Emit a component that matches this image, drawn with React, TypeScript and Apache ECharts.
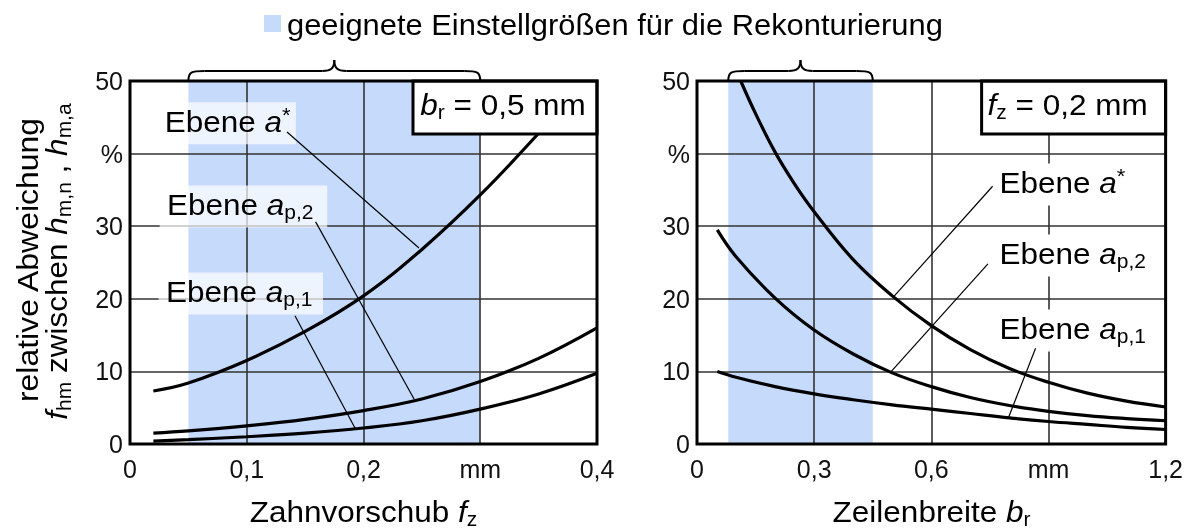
import React, { useEffect, useRef } from "react";
import * as echarts from "echarts";

const FONT = "'Liberation Sans', Arial, Helvetica, sans-serif";
const BAND = "#c6dafc";
const INK = "#000";

// Left panel: Zahnvorschub f_z (mm) at b_r = 0,5 mm
const feedTicks = ["0", "0,1", "0,2", "mm", "0,4"];
const feedBand = [0.05, 0.3];
const feedAStar = [[0.02, 7.3], [0.05, 8.4], [0.1, 11.5], [0.15, 15.5], [0.2, 20.4], [0.25, 26.8], [0.3, 34.3], [0.35, 42.8], [0.36, 44.8]];
const feedAp2 = [[0.02, 1.5], [0.05, 1.8], [0.1, 2.5], [0.15, 3.4], [0.2, 4.6], [0.25, 6.2], [0.3, 8.6], [0.35, 11.8], [0.4, 16]];
const feedAp1 = [[0.02, 0.4], [0.05, 0.6], [0.1, 1.0], [0.15, 1.5], [0.2, 2.2], [0.25, 3.2], [0.3, 4.8], [0.35, 6.9], [0.4, 9.75]];

// Right panel: Zeilenbreite b_r (mm) at f_z = 0,2 mm
const widthTicks = ["0", "0,3", "0,6", "mm", "1,2"];
const widthBand = [0.08, 0.45];
const widthAStar = [[0.112, 50], [0.15, 45.5], [0.2, 40.2], [0.25, 35.8], [0.3, 32], [0.4, 25.4], [0.5, 20.4], [0.6, 16.3], [0.7, 13], [0.8, 10.4], [0.9, 8.5], [1.0, 7.0], [1.1, 5.9], [1.2, 5.1]];
const widthAp2 = [[0.052, 29.5], [0.1, 25.8], [0.2, 20.1], [0.3, 15.7], [0.4, 12.4], [0.5, 9.8], [0.6, 7.9], [0.7, 6.4], [0.8, 5.3], [0.9, 4.5], [1.0, 3.9], [1.1, 3.5], [1.2, 3.2]];
const widthAp1 = [[0.052, 10], [0.1, 9.2], [0.2, 7.9], [0.3, 6.9], [0.4, 6.1], [0.5, 5.4], [0.6, 4.8], [0.7, 4.2], [0.8, 3.6], [0.9, 3.1], [1.0, 2.7], [1.1, 2.3], [1.2, 2.0]];

const yTicks = ["0", "10", "20", "30", "%", "50"];

// Leader lines from the callouts to their curves (data units)
const feedLeaders = [
  [[0.1345, 42.98], [0.2475, 27.0]],
  [[0.159, 30.6], [0.2433, 6.2]],
  [[0.1413, 17.67], [0.1927, 2.2]],
];
const widthLeaders = [
  [[0.757, 35.5], [0.502, 20.2]],
  [[0.745, 24.8], [0.497, 9.96]],
  [[0.867, 13.2], [0.797, 3.54]],
];

const LBL_A = "{n|Ebene }{i|a}{sup|*}";
const LBL_P2 = "{n|Ebene }{i|a}{sub|p,2}";
const LBL_P1 = "{n|Ebene }{i|a}{sub|p,1}";

// Callout anchors: text start and baseline, in data units
const callouts = [
  { grid: 0, text: LBL_A, at: [0.0297, 43.02], padL: 7, padR: 5, bg: "rgba(255,255,255,0.7)" },
  { grid: 0, text: LBL_P2, at: [0.0317, 31.54], padL: 7, padR: 13, bg: "rgba(255,255,255,0.7)" },
  { grid: 0, text: LBL_P1, at: [0.0308, 19.56], padL: 7, padR: 10, bg: "rgba(255,255,255,0.7)" },
  { grid: 1, text: LBL_A, at: [0.7746, 34.57], padL: 6, padR: 6, bg: "#ffffff" },
  { grid: 1, text: LBL_P2, at: [0.7746, 24.79], padL: 6, padR: 6, bg: "#ffffff" },
  { grid: 1, text: LBL_P1, at: [0.7746, 14.46], padL: 6, padR: 6, bg: "#ffffff" },
];

const rich = {
  n: { fontSize: 30, lineHeight: 34, fontFamily: FONT, color: INK },
  i: { fontSize: 30, lineHeight: 34, fontFamily: FONT, fontStyle: "italic", color: INK },
  sub: { fontSize: 20, lineHeight: 18, verticalAlign: "bottom", fontFamily: FONT, color: INK },
  sup: { fontSize: 21, lineHeight: 30, verticalAlign: "top", fontFamily: FONT, color: INK },
};

const SX = 1.05;

const GRIDS = [
  { left: 130, top: 81, width: 467, height: 363 },
  { left: 697, top: 81, width: 469, height: 363 },
];

const splitLine = { show: true, lineStyle: { color: "#333333", width: 1.6 } };
const tickFont = { fontFamily: FONT, fontSize: 25, color: "#111" };

function xAxis(grid: number, max: number, step: number, labels: string[]) {
  return {
    gridIndex: grid,
    type: "value",
    min: 0,
    max,
    interval: step,
    z: 2,
    axisLine: { show: false },
    axisTick: { show: false },
    splitLine,
    axisLabel: { ...tickFont, margin: 12, formatter: (v: number) => labels[Math.round(v / step)] ?? "" },
  };
}

function yAxis(grid: number) {
  return {
    gridIndex: grid,
    type: "value",
    min: 0,
    max: 50,
    interval: 10,
    z: 2,
    axisLine: { show: false },
    axisTick: { show: false },
    splitLine,
    axisLabel: { ...tickFont, margin: 7, formatter: (v: number) => yTicks[Math.round(v / 10)] ?? "" },
  };
}

function curve(g: number, data: number[][]) {
  return {
    type: "line", xAxisIndex: g, yAxisIndex: g, data, symbol: "none", smooth: 0.4,
    z: 5, silent: true, lineStyle: { color: INK, width: 3.2 },
  };
}

function leader(g: number, data: number[][]) {
  return {
    type: "line", xAxisIndex: g, yAxisIndex: g, data, symbol: "none", z: 13, silent: true,
    lineStyle: { color: INK, width: 1.2 },
  };
}

function band(g: number, range: number[]) {
  return {
    type: "line", xAxisIndex: g, yAxisIndex: g, data: [], z: 1, silent: true,
    markArea: { silent: true, itemStyle: { color: BAND }, data: [[{ xAxis: range[0] }, { xAxis: range[1] }]] },
  };
}

function baseOption() {
  return {
    animation: false,
    grid: GRIDS,
    xAxis: [xAxis(0, 0.4, 0.1, feedTicks), xAxis(1, 1.2, 0.3, widthTicks)],
    yAxis: [yAxis(0), yAxis(1)],
    series: [
      band(0, feedBand),
      band(1, widthBand),
      curve(0, feedAStar),
      curve(0, feedAp2),
      curve(0, feedAp1),
      curve(1, widthAStar),
      curve(1, widthAp2),
      curve(1, widthAp1),
      ...feedLeaders.map((l) => leader(0, l)),
      ...widthLeaders.map((l) => leader(1, l)),
    ],
  };
}

// curly brace spanning [x1, x2] above the plot
function brace(x1: number, x2: number, yB: number, yT: number) {
  const mid = (x1 + x2) / 2;
  const ym = yB - 10;
  const st = { stroke: INK, lineWidth: 2, fill: "none" };
  const half = (s: number, xa: number) => [
    { type: "bezierCurve", z: 25, shape: { x1: xa, y1: yB, cpx1: xa, cpy1: ym + 1, cpx2: xa + s * 3, cpy2: ym, x2: xa + s * 16, y2: ym }, style: st },
    { type: "line", z: 25, shape: { x1: xa + s * 16, y1: ym, x2: mid - s * 12, y2: ym }, style: st },
    { type: "bezierCurve", z: 25, shape: { x1: mid - s * 12, y1: ym, cpx1: mid - s * 3, cpy1: ym, cpx2: mid, cpy2: ym - 3, x2: mid, y2: yT }, style: st },
  ];
  return [...half(1, x1), ...half(-1, x2)];
}

function buildGraphic(chart: any) {
  const P = (g: number, x: number, y: number) => chart.convertToPixel({ gridIndex: g }, [x, y]) as number[];
  const els: any[] = [];

  // legend
  els.push({ type: "rect", z: 20, shape: { x: 264, y: 15, width: 17, height: 17 }, style: { fill: BAND } });
  els.push({
    type: "text", z: 20, x: 287, y: 24.6, scaleX: 1.03,
    style: { text: "geeignete Einstellgrößen für die Rekonturierung", fontFamily: FONT, fontSize: 30, fill: INK, align: "left", verticalAlign: "middle" },
  });

  const frames = [
    { g: 0, xmax: 0.4, bandR: feedBand, box: "{i|b}{sub|r}{n| = 0,5 mm}", dx: -2 },
    { g: 1, xmax: 1.2, bandR: widthBand, box: "{i|f}{sub|z}{n| = 0,2 mm}", dx: -6 },
  ];
  frames.forEach((f) => {
    const [l, t] = P(f.g, 0, 50);
    const [r, b] = P(f.g, f.xmax, 0);
    // parameter box in the upper right corner
    els.push({ type: "rect", z: 21, shape: { x: r - 184, y: t, width: 184, height: 53 }, style: { fill: "#fff", stroke: INK, lineWidth: 3 } });
    els.push({
      type: "text", z: 22, x: r - 92 + f.dx, y: t + 23.6, scaleX: SX,
      style: { text: f.box, rich, fontFamily: FONT, fontSize: 30, fill: INK, align: "center", verticalAlign: "middle" },
    });
    // plot frame
    els.push({ type: "rect", z: 30, shape: { x: l, y: t, width: r - l, height: b - t }, style: { fill: "none", stroke: INK, lineWidth: 3 } });
    // brace over the suitable range
    const bx1 = P(f.g, f.bandR[0], 50)[0];
    const bx2 = P(f.g, f.bandR[1], 50)[0];
    els.push(...brace(bx1, bx2, t, 60));
  });

  callouts.forEach((c) => {
    const [px, py] = P(c.grid, c.at[0], c.at[1]);
    els.push({
      type: "text", z: 12, x: px - c.padL * SX, y: py - 29.4, scaleX: SX,
      style: {
        text: c.text, rich, fontFamily: FONT, fontSize: 30, fill: INK, align: "left", verticalAlign: "top",
        backgroundColor: c.bg, padding: [2, c.padR, 6, c.padL],
      },
    });
  });

  // axis titles
  els.push({
    type: "text", z: 20, x: (GRIDS[0].left * 2 + GRIDS[0].width) / 2, y: 511.5, scaleX: SX,
    style: { text: "{n|Zahnvorschub }{i|f}{sub|z}", rich, fontFamily: FONT, fontSize: 30, fill: INK, align: "center", verticalAlign: "middle" },
  });
  els.push({
    type: "text", z: 20, x: (GRIDS[1].left * 2 + GRIDS[1].width) / 2, y: 511.5, scaleX: SX,
    style: { text: "{n|Zeilenbreite }{i|b}{sub|r}", rich, fontFamily: FONT, fontSize: 30, fill: INK, align: "center", verticalAlign: "middle" },
  });
  els.push({
    type: "text", z: 20, x: 27.6, y: 260, rotation: Math.PI / 2, scaleX: 1.065,
    style: { text: "{n|relative Abweichung}", rich, fontFamily: FONT, fontSize: 30, fill: INK, align: "center", verticalAlign: "middle" },
  });
  els.push({
    type: "text", z: 20, x: 56.6, y: 261.5, rotation: Math.PI / 2, scaleX: SX,
    style: {
      text: "{i|f}{sub|hm}{n| zwischen }{i|h}{sub|m,n}{n| , }{i|h}{sub|m,a}",
      rich, fontFamily: FONT, fontSize: 30, fill: INK, align: "center", verticalAlign: "middle",
    },
  });

  return els;
}

export default function App() {
  const ref = useRef<HTMLDivElement>(null);
  useEffect(() => {
    const chart = echarts.init(ref.current!, null, { renderer: "svg" });
    chart.setOption(baseOption() as any);
    chart.setOption({ graphic: buildGraphic(chart) } as any);
    return () => chart.dispose();
  }, []);
  return <div ref={ref} style={{ position: "fixed", left: 0, top: 0, width: 1186, height: 532 }} />;
}
